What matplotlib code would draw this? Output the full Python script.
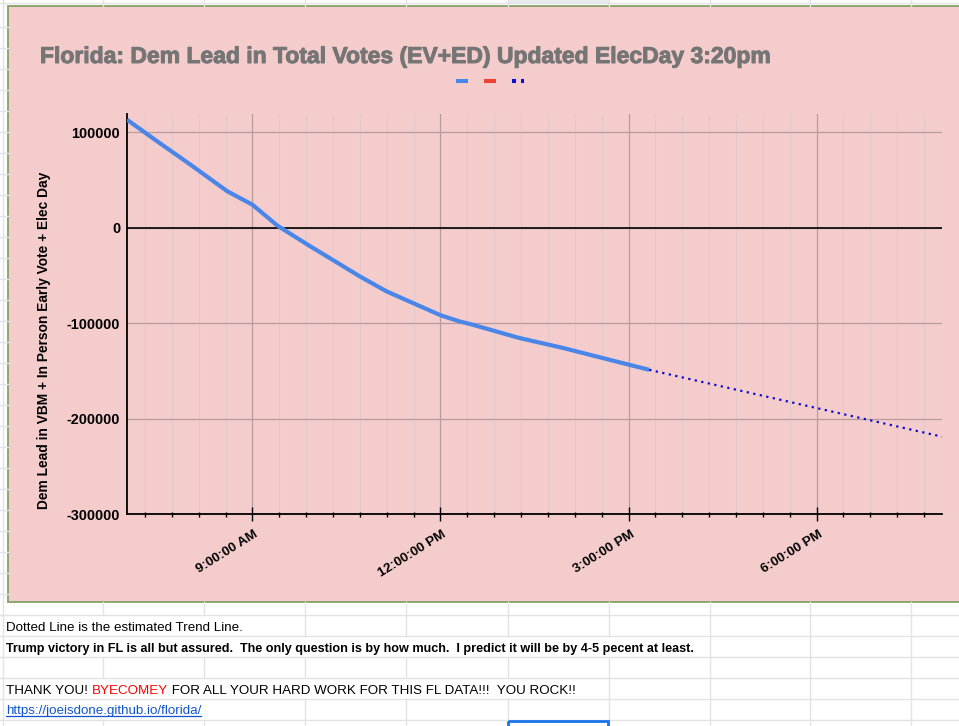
import matplotlib
matplotlib.use("Agg")
import matplotlib.pyplot as plt
import matplotlib.patheffects as pe
from matplotlib.lines import Line2D
from matplotlib.patches import Rectangle
from matplotlib.ticker import FixedLocator
from matplotlib.transforms import ScaledTranslation

# ---------------- data ----------------
hours = [7.0, 7.5, 8.0, 8.6, 9.0, 9.4, 9.92, 10.23, 10.71, 11.14, 11.56,
         12.0, 12.3, 12.5, 13.25, 13.95, 14.37, 15.0, 15.33]
dem_lead = [113000, 89500, 66500, 38000, 24000, 2000, -19500, -31800, -51000,
            -66800, -79000, -91800, -98200, -101500, -115500, -126000,
            -133000, -143500, -149000]
rep_hours = []
rep_values = []
trend_hours = [15.33, 20.0]
trend_values = [-149000, -219000]

y_ticks = [-300000, -200000, -100000, 0, 100000]
y_labels = ["-300000", "-200000", "-100000", "0", "100000"]
x_major = [9, 12, 15, 18]
x_labels = ["9:00:00 AM", "12:00:00 PM", "3:00:00 PM", "6:00:00 PM"]

title = "Florida: Dem Lead in Total Votes (EV+ED) Updated ElecDay 3:20pm"
ylabel = "Dem Lead in VBM + In Person Early Vote + Elec Day"
note1 = "Dotted Line is the estimated Trend Line."
note2 = ("Trump victory in FL is all but assured.  The only question is by how "
         "much.  I predict it will be by 4-5 pecent at least.")
thanks = ["THANK YOU! ", "BYECOMEY", " FOR ALL YOUR HARD WORK FOR THIS FL DATA!!!  YOU ROCK!!"]
link = "https://joeisdone.github.io/florida/"

# ---------------- figure ----------------
W, H = 959, 726
fig = plt.figure(figsize=(W / 100, H / 100), dpi=100)
fig.patch.set_facecolor("white")
FONT = "Liberation Sans"

bg = fig.add_axes([0, 0, 1, 1])
bg.set_xlim(0, W)
bg.set_ylim(H, 0)
bg.axis("off")

GRID = "#e2e3e3"
col_x = [3, 103, 204, 305, 406, 507.5, 608.5, 709.5, 810, 911]
# top strip above chart
bg.add_patch(Rectangle((507.5, 0), 101, 3, facecolor="#e8eaed", edgecolor="none"))
bg.plot([0, W], [3, 3], color=GRID, lw=1)
for cx in col_x:
    bg.plot([cx, cx], [0, 6], color=GRID, lw=1)
# rows left of chart
r = 615
rows_left = []
while r > 6:
    rows_left.append(r)
    r -= 21
for ry in rows_left:
    bg.plot([0, 8], [ry, ry], color=GRID, lw=1)
bg.plot([3, 3], [0, 602], color=GRID, lw=1)

# rows below chart
row_y = [615, 636, 657, 678, 699, 720]
for ry in row_y:
    bg.plot([0, W], [ry, ry], color=GRID, lw=1)
row_text_end = {(602, 615): 0, (615, 636): 245, (636, 657): 692, (657, 678): 0,
                (678, 699): 578, (699, 720): 205, (720, 726): 0}
for (y0, y1), xend in row_text_end.items():
    for cx in col_x:
        if cx > xend or cx < 6:
            bg.plot([cx, cx], [y0, y1], color=GRID, lw=1)

# chart area
bg.add_patch(Rectangle((8, 6), 960, 596, facecolor="#f4cccc", edgecolor="#86a065", lw=1.3))

# selected cell
bg.add_patch(Rectangle((508, 720.5), 100, 10, facecolor="none", edgecolor="#1a73e8",
                       lw=2.0, zorder=10, clip_on=False))

# ---------------- chart axes ----------------
L, R, T, B = 127, 942, 113.5, 514
ax = fig.add_axes([L / W, 1 - B / H, (R - L) / W, (B - T) / H])
ax.set_facecolor("#f4cccc")
ax.set_xlim(7, 20)
ax.set_ylim(-300000, 119500)

ax.plot(hours, dem_lead, color="#4a86e8", lw=3.0, solid_joinstyle="round",
        solid_capstyle="butt", zorder=4)
ax.plot(rep_hours, rep_values, color="#ea4335", lw=2.9)
ax.plot(trend_hours, trend_values, color="#0a0ad0", lw=1.6,
        linestyle=(0, (1.0, 2.0)), zorder=4)

ax.xaxis.set_major_locator(FixedLocator(x_major))
minor = []
step = 3 / 7
for k in range(-4, 5 * 7):
    v = 9 + k * step
    if 7 < v < 20 and all(abs(v - m) > 1e-6 for m in x_major):
        minor.append(v)
ax.xaxis.set_minor_locator(FixedLocator(minor))
ax.set_xticklabels(x_labels)
ax.yaxis.set_major_locator(FixedLocator(y_ticks))
ax.set_yticklabels(y_labels)

ax.grid(which="minor", axis="x", color="#e4c9c9", lw=0.8)
ax.grid(which="major", axis="x", color="#b89c9c", lw=0.9)
ax.grid(which="major", axis="y", color="#b89c9c", lw=0.9)
ax.axhline(0, color="black", lw=1.2, zorder=3)
ax.set_axisbelow(True)

for s in ["top", "right"]:
    ax.spines[s].set_visible(False)
for s in ["left", "bottom"]:
    ax.spines[s].set_color("black")
    ax.spines[s].set_linewidth(1.3)

ax.tick_params(axis="x", which="major", direction="inout", length=9.4, width=1,
               color="black", pad=5.5)
ax.tick_params(axis="x", which="minor", direction="inout", length=3.6, width=1,
               color="black")
ax.tick_params(axis="y", length=0, pad=5)
for lab in ax.get_yticklabels():
    lab.set_fontfamily(FONT)
    lab.set_fontweight("bold")
    lab.set_fontsize(10.4)
offset = ScaledTranslation(1.5 / 100, 0, fig.dpi_scale_trans)
for lab in ax.get_xticklabels():
    lab.set_fontfamily(FONT)
    lab.set_fontweight("bold")
    lab.set_fontsize(9.6)
    lab.set_rotation(32)
    lab.set_ha("right")
    lab.set_va("top")
    lab.set_rotation_mode("anchor")
    lab.set_transform(lab.get_transform() + offset)

fig.text(44 / W, 1 - 340 / H, ylabel, rotation=90, ha="center", va="center",
         fontsize=9.9, fontweight="bold", family=FONT, color="black")

fig.text(40 / W, 1 - 63 / H, title, ha="left", va="baseline", fontsize=16.5,
         fontweight="bold", family=FONT, color="#757575",
         path_effects=[pe.withStroke(linewidth=0.7, foreground="#757575")])

# legend
h1 = Line2D([], [], color="#4a86e8", lw=2.9, solid_capstyle="butt")
h2 = Line2D([], [], color="#ea4335", lw=2.9, solid_capstyle="butt")
h3 = Line2D([], [], color="#0a0ad0", lw=2.9, linestyle=(0, (1.0, 1.25)))
fig.legend([h1, h2, h3], ["", "", ""], loc="center",
           bbox_to_anchor=(490 / W, 1 - 81.5 / H), ncol=3, frameon=False,
           fontsize=10, handlelength=0.86, handletextpad=0, columnspacing=1.15,
           borderpad=0, borderaxespad=0)

# ---------------- sheet text ----------------
TS = 9.65
bg.text(6, 631, note1, fontsize=TS, family=FONT, color="black", va="baseline")
bg.text(6, 652, note2, fontsize=9.1, family=FONT, color="black", va="baseline",
        fontweight="bold")

fig.canvas.draw()
renderer = fig.canvas.get_renderer()
x = 6
colors = ["black", "#ff0000", "black"]
for part, c in zip(thanks, colors):
    t = bg.text(x, 694, part, fontsize=TS, family=FONT, color=c, va="baseline")
    bb = t.get_window_extent(renderer)
    x += bb.width
lt = bg.text(6, 714, link, fontsize=TS, family=FONT, color="#1155cc", va="baseline")
bb = lt.get_window_extent(renderer)
bg.plot([6, 6 + bb.width], [716, 716], color="#1155cc", lw=0.9)

fig.savefig("out.png", dpi=100)
